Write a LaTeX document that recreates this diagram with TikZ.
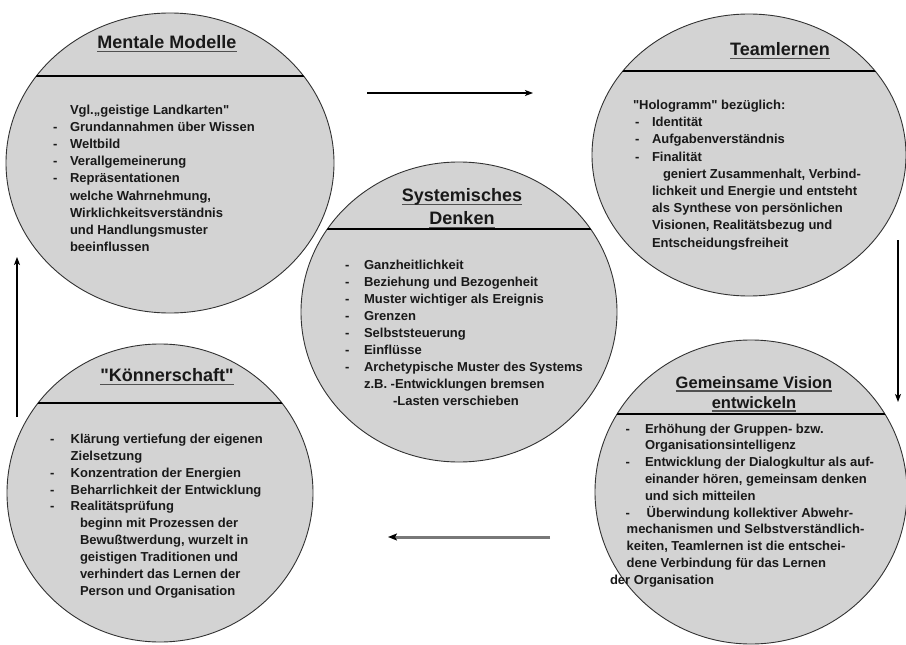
\documentclass[tikz,border=0pt]{standalone}
\usepackage{fontspec}
\setmainfont{Liberation Sans}[Ligatures=TeXOff]
\usetikzlibrary{shapes.geometric,arrows.meta}
\definecolor{cfill}{RGB}{211,211,211}
\definecolor{cline}{RGB}{50,50,50}
\definecolor{ctext}{RGB}{25,25,25}
\definecolor{cul}{RGB}{80,80,80}
\definecolor{cgrayarrow}{RGB}{120,120,120}
\newcommand\myul[1]{\setbox0\hbox{#1}\rlap{\color{cul}\rule[-3.5pt]{\wd0}{1.5pt}}\box0}
\tikzset{
 circ/.style={ellipse,draw=cline,fill=cfill,line width=0.9pt,inner sep=0pt,outer sep=0pt},
 chord/.style={line width=2pt,black},
 bl/.style={anchor=base west,inner sep=0pt,outer sep=0pt,font=\fontsize{13}{17}\selectfont\bfseries,text=ctext},
 ttl/.style={anchor=base,inner sep=0pt,outer sep=0pt,font=\fontsize{18}{23}\selectfont\bfseries,text=ctext},
 ttlsmall/.style={ttl,font=\fontsize{16.5}{20}\selectfont\bfseries},
 arr/.style={-{Stealth[length=8pt,width=6pt,inset=2pt]},line width=1.2pt,black},
 arrgray/.style={-{Stealth[length=9pt,width=7pt,inset=2pt,color=black]},line width=3pt,cgrayarrow},
}
\begin{document}
\begin{tikzpicture}[x=1pt,y=-1pt]
\useasboundingbox (0,0) rectangle (906,645);

% circles
\node[circ,minimum width=328pt,minimum height=300pt] (mm) at (170,163) {};
\node[circ,minimum width=314pt,minimum height=282pt] (tl) at (749,155) {};
\node[circ,minimum width=316pt,minimum height=300pt] (sd) at (459,312) {};
\node[circ,minimum width=306pt,minimum height=298pt] (ks) at (160,493) {};
\node[circ,minimum width=312pt,minimum height=304pt] (gv) at (751,492) {};

% chords
\begin{scope}\clip (170,163) ellipse [x radius=164, y radius=150];\draw[chord] (0,76) -- (906,76);\end{scope}
\begin{scope}\clip (749,155) ellipse [x radius=157, y radius=141];\draw[chord] (0,71) -- (906,71);\end{scope}
\begin{scope}\clip (459,312) ellipse [x radius=158, y radius=150];\draw[chord] (0,229) -- (906,229);\end{scope}
\begin{scope}\clip (160,493) ellipse [x radius=153, y radius=149];\draw[chord] (0,403) -- (906,403);\end{scope}
\begin{scope}\clip (751,492) ellipse [x radius=156, y radius=152];\draw[chord] (0,414) -- (906,414);\end{scope}

% titles
\node[ttl] (mmt) at (167,48.5) {\myul{Mentale Modelle}};
\node[ttl] (tlt) at (780,55.5) {\myul{Teamlernen}};
\node[ttl] (sdt1) at (462,201.5) {\myul{Systemisches}};
\node[ttl] (sdt2) at (462,224.5) {\myul{Denken}};
\node[ttl] (kst) at (167,381.5) {\myul{"Könnerschaft"}};
\node[ttlsmall] (gvt1) at (754,388) {\myul{Gemeinsame Vision}};
\node[ttlsmall] (gvt2) at (754,408) {\myul{entwickeln}};

% Mentale Modelle
\node[bl] (mm0) at (70,114.5) {Vgl.„geistige Landkarten"};
\node[bl] (mmd1) at (53,131.6) {-};\node[bl] (mm1) at (70,131.6) {Grundannahmen über Wissen};
\node[bl] (mmd2) at (53,148.7) {-};\node[bl] (mm2) at (70,148.7) {Weltbild};
\node[bl] (mmd3) at (53,165.8) {-};\node[bl] (mm3) at (70,165.8) {Verallgemeinerung};
\node[bl] (mmd4) at (53,182.9) {-};\node[bl] (mm4) at (70,182.9) {Repräsentationen};
\node[bl] (mm5) at (70,200.0) {welche Wahrnehmung,};
\node[bl] (mm6) at (70,217.1) {Wirklichkeitsverständnis};
\node[bl] (mm7) at (70,234.2) {und Handlungsmuster};
\node[bl] (mm8) at (70,251.3) {beeinflussen};

% Teamlernen
\node[bl] (tl0) at (633,109.5) {"Hologramm" bezüglich:};
\node[bl] (tld1) at (635,126.7) {-};\node[bl] (tl1) at (652,126.7) {Identität};
\node[bl] (tld2) at (635,143.9) {-};\node[bl] (tl2) at (652,143.9) {Aufgabenverständnis};
\node[bl] (tld3) at (635,161.1) {-};\node[bl] (tl3) at (652,161.1) {Finalität};
\node[bl] (tl4) at (663,178.3) {geniert Zusammenhalt, Verbind-};
\node[bl] (tl5) at (652,195.5) {lichkeit und Energie und entsteht};
\node[bl] (tl6) at (652,212.7) {als Synthese von persönlichen};
\node[bl] (tl7) at (652,229.9) {Visionen, Realitätsbezug und};
\node[bl] (tl8) at (652,247.1) {Entscheidungsfreiheit};

% Systemisches Denken
\node[bl] (sdd0) at (345,269) {-};\node[bl] (sd0) at (364,269) {Ganzheitlichkeit};
\node[bl] (sdd1) at (345,286) {-};\node[bl] (sd1) at (364,286) {Beziehung und Bezogenheit};
\node[bl] (sdd2) at (345,303) {-};\node[bl] (sd2) at (364,303) {Muster wichtiger als Ereignis};
\node[bl] (sdd3) at (345,320) {-};\node[bl] (sd3) at (364,320) {Grenzen};
\node[bl] (sdd4) at (345,337) {-};\node[bl] (sd4) at (364,337) {Selbststeuerung};
\node[bl] (sdd5) at (345,354) {-};\node[bl] (sd5) at (364,354) {Einflüsse};
\node[bl] (sdd6) at (345,371) {-};\node[bl] (sd6) at (364,371) {Archetypische Muster des Systems};
\node[bl] (sd7) at (364,388) {z.B. -Entwicklungen bremsen};
\node[bl] (sd8) at (393,405) {-Lasten verschieben};

% Koennerschaft
\node[bl] (ksd0) at (50,443.5) {-};\node[bl] (ks0) at (70.7,443.5) {Klärung vertiefung der eigenen};
\node[bl] (ks1) at (70.7,460.35) {Zielsetzung};
\node[bl] (ksd2) at (50,477.2) {-};\node[bl] (ks2) at (70.7,477.2) {Konzentration der Energien};
\node[bl] (ksd3) at (50,494.05) {-};\node[bl] (ks3) at (70.7,494.05) {Beharrlichkeit der Entwicklung};
\node[bl] (ksd4) at (50,510.9) {-};\node[bl] (ks4) at (70.7,510.9) {Realitätsprüfung};
\node[bl] (ks5) at (80,527.75) {beginn mit Prozessen der};
\node[bl] (ks6) at (80,544.6) {Bewußtwerdung, wurzelt in};
\node[bl] (ks7) at (80,561.45) {geistigen Traditionen und};
\node[bl] (ks8) at (80,578.3) {verhindert das Lernen der};
\node[bl] (ks9) at (80,595.15) {Person und Organisation};

% Gemeinsame Vision
\node[bl] (gvd0) at (625.7,433) {-};\node[bl] (gv0) at (645,433) {Erhöhung der Gruppen- bzw.};
\node[bl] (gv1) at (645,449.8) {Organisationsintelligenz};
\node[bl] (gvd2) at (625.7,466.6) {-};\node[bl] (gv2) at (645,466.6) {Entwicklung der Dialogkultur als auf-};
\node[bl] (gv3) at (645,483.4) {einander hören, gemeinsam denken};
\node[bl] (gv4) at (645,500.2) {und sich mitteilen};
\node[bl] (gvd5) at (625.7,517) {-};\node[bl] (gv5) at (646.7,517) {Überwindung kollektiver Abwehr-};
\node[bl] (gv6) at (626.7,533.8) {mechanismen und Selbstverständlich-};
\node[bl] (gv7) at (626.7,550.6) {keiten, Teamlernen ist die entschei-};
\node[bl] (gv8) at (626.7,567.4) {dene Verbindung für das Lernen};
\node[bl] (gv9) at (610,584.2) {der Organisation};

% arrows
\coordinate (a1s) at (367,93);\coordinate (a1e) at (533,93);
\coordinate (a2s) at (898,240);\coordinate (a2e) at (898,402);
\coordinate (a3s) at (550,537);\coordinate (a3e) at (388,537);
\coordinate (a4s) at (17,417);\coordinate (a4e) at (17,257);
\draw[arr] (a1s) -- (a1e);
\draw[arr] (a2s) -- (a2e);
\draw[arrgray] (a3s) -- (a3e);
\draw[arr] (a4s) -- (a4e);
\end{tikzpicture}
\end{document}
